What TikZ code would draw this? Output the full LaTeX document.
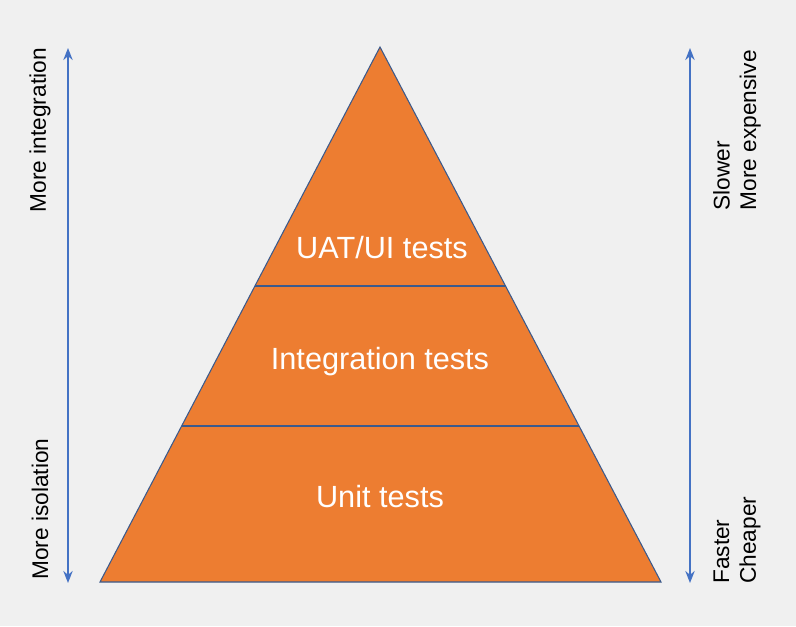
\documentclass[tikz,border=0pt]{standalone}
\usepackage{fontspec}
\setmainfont{Liberation Sans}
\usetikzlibrary{arrows.meta}
\definecolor{bg}{HTML}{F0F0F0}
\definecolor{org}{HTML}{ED7D31}
\definecolor{blu}{HTML}{4472C4}
\definecolor{edge}{HTML}{3B5A8C}
\begin{document}
\begin{tikzpicture}[x=0.75pt,y=-0.75pt,
  side/.style={text=black,font=\fontsize{17}{20}\selectfont,rotate=90,inner sep=0pt},
  lvl/.style={text=white,font=\fontsize{23}{27}\selectfont},
  ax/.style={blu,line width=2pt,{Stealth[length=9pt,width=7pt]}-{Stealth[length=9pt,width=7pt]}}]
\fill[bg] (0,0) rectangle (796,626);
\useasboundingbox (0,0) rectangle (796,626);
\coordinate (apex) at (380,47);
\coordinate (bl) at (100,582);
\coordinate (br) at (661,582);
\coordinate (l1) at (255,286); \coordinate (r1) at (505.5,286);
\coordinate (l2) at (181.6,426); \coordinate (r2) at (579,426);
\fill[org] (apex) -- (br) -- (bl) -- cycle;
\draw[edge,line width=0.8pt] (apex) -- (br) -- (bl) -- cycle;
\draw[edge,line width=0.8pt] (l1) -- (r1);
\draw[edge,line width=0.8pt] (l2) -- (r2);
\node[lvl] (uat) at (382,248) {UAT/UI tests};
\node[lvl] (int) at (380,362) {Integration tests};
\node[lvl] (unit) at (380,497) {Unit tests};
\coordinate (la) at (68,48); \coordinate (lb) at (68,583);
\coordinate (ra) at (690,48); \coordinate (rb) at (690,583);
\draw[ax] (la) -- (lb);
\draw[ax] (ra) -- (rb);
\node[side,anchor=east] (mi) at (40,48) {More integration};
\node[side,anchor=west] (mis) at (40,580) {More isolation};
\node[side,anchor=east,align=left] (sl) at (737,50) {Slower\\More expensive};
\node[side,anchor=west,align=left] (fc) at (737,584) {Faster\\Cheaper};
\end{tikzpicture}
\end{document}
